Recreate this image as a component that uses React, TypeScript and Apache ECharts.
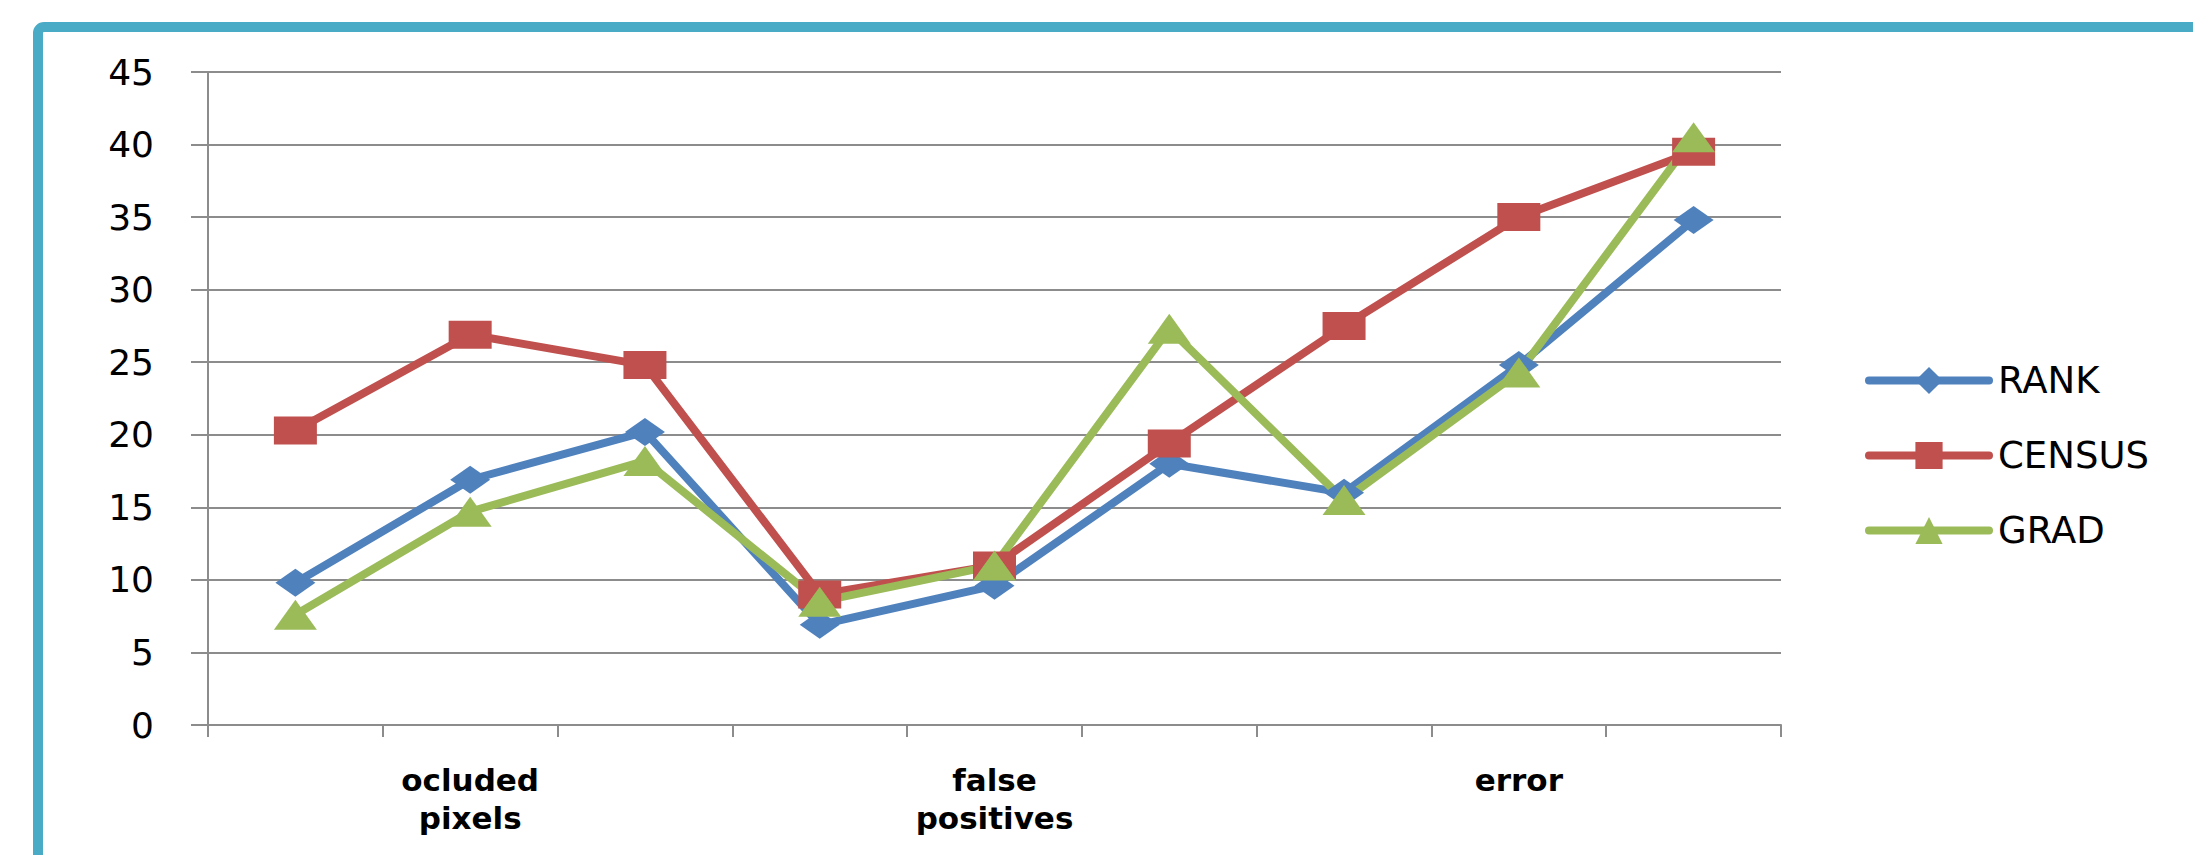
import React, { useEffect, useRef } from "react";
import * as echarts from "echarts";

const categories = ["", "ocluded\npixels", "", "", "false\npositives", "", "", "error", ""];
const rank = [9.8, 16.9, 20.2, 6.9, 9.6, 18.0, 16.0, 24.8, 34.8];
const census = [20.3, 26.9, 24.8, 9.0, 11.0, 19.4, 27.5, 35.0, 39.5];
const grad = [7.6, 14.7, 18.2, 8.5, 11.0, 27.3, 15.5, 24.3, 40.5];
const seriesNames = ["RANK", "CENSUS", "GRAD"];
const colors = ["#4f81bd", "#c0504d", "#9bbb59"];

export default function App() {
  const ref = useRef<HTMLDivElement>(null);
  useEffect(() => {
    if (!ref.current) return;
    const chart = echarts.init(ref.current, undefined, { renderer: "svg" });
    const gridColor = "#8c8c8c";
    const mk = (name: string, data: number[], color: string, symbol: string, size: number[]) => ({
      name,
      type: "line",
      data,
      symbol,
      symbolSize: size,
      color,
      lineStyle: { color, width: 8 },
      itemStyle: { color },
    });
    chart.setOption({
      animation: false,
      backgroundColor: "#ffffff",
      graphic: [
        {
          type: "rect",
          shape: { x: 38, y: 27, width: 2400, height: 1000, r: 6 },
          style: { fill: "none", stroke: "#4aabc6", lineWidth: 10 },
          z: 10,
        },
      ],
      grid: { left: 208, right: 412, top: 72, bottom: 130, outerBoundsMode: "none" },
      legend: {
        orient: "vertical",
        left: 1860,
        top: 357,
        itemWidth: 120,
        itemHeight: 34,
        itemGap: 38,
        data: seriesNames,
        lineStyle: { width: 8, cap: "round" },
        textStyle: {
          fontFamily: "DejaVu Sans",
          fontSize: 37,
          color: "#000",
          padding: [0, 0, 0, 4],
          lineHeight: 34,
        },
      },
      xAxis: {
        type: "category",
        data: categories,
        boundaryGap: true,
        axisLine: { show: true, lineStyle: { color: gridColor, width: 2 } },
        axisTick: { show: true, interval: 0, length: 12, lineStyle: { color: gridColor, width: 2 } },
        axisLabel: {
          interval: 0,
          margin: 36,
          fontFamily: "DejaVu Sans",
          fontWeight: "bold",
          fontSize: 31,
          lineHeight: 38,
          color: "#000",
        },
      },
      yAxis: {
        type: "value",
        min: 0,
        max: 45,
        interval: 5,
        axisLine: { show: true, lineStyle: { color: gridColor, width: 2 } },
        axisTick: { show: true, length: 17, lineStyle: { color: gridColor, width: 2 } },
        splitLine: { show: true, lineStyle: { color: gridColor, width: 2 } },
        axisLabel: {
          margin: 54,
          fontFamily: "DejaVu Sans",
          fontSize: 36,
          color: "#000",
        },
      },
      series: [
        mk(seriesNames[0], rank, colors[0], "diamond", [40, 28]),
        mk(seriesNames[1], census, colors[1], "rect", [43, 28]),
        mk(seriesNames[2], grad, colors[2], "triangle", [43, 30]),
      ],
    });
    return () => chart.dispose();
  }, []);
  return (
    <div
      ref={ref}
      style={{ position: "fixed", left: 0, top: 0, width: 2193, height: 855, background: "#fff" }}
    />
  );
}
